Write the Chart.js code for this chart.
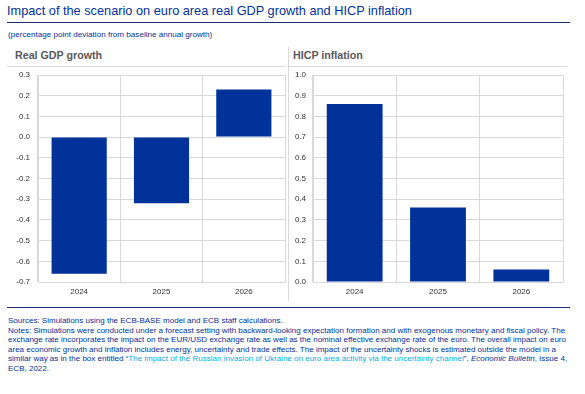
<!DOCTYPE html>
<html><head><meta charset="utf-8">
<script src="https://cdn.jsdelivr.net/npm/chart.js@4.4.1/dist/chart.umd.min.js"></script>
<style>
html,body{margin:0;padding:0;background:#fff;width:585px;height:394px;overflow:hidden;font-family:"Liberation Sans",Arial,sans-serif;}
.abs{position:absolute;}
#title{left:7px;top:3px;font-size:12.75px;color:#003299;white-space:nowrap;}
#trule{left:7px;top:22px;width:563px;height:0;border-top:1.5px solid #1b2f6b;}
#sub{left:8px;top:30px;font-size:8.1px;color:#003299;white-space:nowrap;}
.head{font-size:10.7px;font-weight:bold;color:#595959;white-space:nowrap;top:49px;}
.hline{top:66px;height:0;border-top:1px solid #d9d9d9;}
#vsep{left:288px;top:47px;width:0;height:254px;border-left:1px solid #d9d9d9;}
#brule{left:7px;top:307px;width:563px;height:0;border-top:1.5px solid #1b2f6b;}
#notes{left:8px;top:316px;font-size:8.02px;line-height:9.6px;color:#003299;white-space:nowrap;}
#notes .lk{color:#00b1ea;}
</style></head>
<body>
<div id="title" class="abs">Impact of the scenario on euro area real GDP growth and HICP inflation</div>
<div id="trule" class="abs"></div>
<div id="sub" class="abs">(percentage point deviation from baseline annual growth)</div>
<div class="abs head" style="left:15px;">Real GDP growth</div>
<div class="abs head" style="left:293px;">HICP inflation</div>
<div class="abs hline" style="left:7px;width:279px;"></div>
<div class="abs hline" style="left:289px;width:278px;"></div>
<div id="vsep" class="abs"></div>
<canvas id="c1" class="abs" style="left:0px;top:68px;" width="288" height="232"></canvas>
<canvas id="c2" class="abs" style="left:288px;top:68px;" width="297" height="232"></canvas>
<div id="brule" class="abs"></div>
<div id="notes" class="abs">Sources: Simulations using the ECB-BASE model and ECB staff calculations.<br>Notes: Simulations were conducted under a forecast setting with backward-looking expectation formation and with exogenous monetary and fiscal policy. The<br>exchange rate incorporates the impact on the EUR/USD exchange rate as well as the nominal effective exchange rate of the euro. The overall impact on euro<br>area economic growth and inflation includes energy, uncertainty and trade effects. The impact of the uncertainty shocks is estimated outside the model in a<br>similar way as in the box entitled “<span class="lk">The impact of the Russian invasion of Ukraine on euro area activity via the uncertainty channel</span>”, <i>Economic Bulletin</i>, Issue 4,<br>ECB, 2022.</div>
<script>
const years = ["2024", "2025", "2026"];
const gdpValues = [-0.66, -0.32, 0.23];
const hicpValues = [0.86, 0.36, 0.06];
const gdpTicks = {min: -0.7, max: 0.3, step: 0.1};
const hicpTicks = {min: 0.0, max: 1.0, step: 0.1};

const BAR = "#003299";
const GRID = "#d9d9d9";
const tickFont = {family: "'Liberation Sans', Arial, sans-serif", size: 8};

function makeChart(id, values, t, yWidth, padRight, labelPad) {
  return new Chart(document.getElementById(id), {
    type: "bar",
    data: {labels: years, datasets: [{data: values, backgroundColor: BAR, borderWidth: 0,
      categoryPercentage: 1.0, barPercentage: 0.67}]},
    options: {
      responsive: false, animation: false, devicePixelRatio: 1,
      layout: {autoPadding: false, padding: {top: 7, right: padRight, left: 0, bottom: 0}},
      plugins: {legend: {display: false}, tooltip: {enabled: false}},
      scales: {
        x: {
          grid: {color: GRID, offset: true, drawTicks: false, lineWidth: 1},
          border: {color: GRID},
          ticks: {color: "#333", font: tickFont, padding: 5, maxRotation: 0},
          afterFit: s => { s.height = 18; s.paddingLeft = 0; s.paddingRight = 0; }
        },
        y: {
          min: t.min, max: t.max,
          grid: {color: GRID, drawTicks: false, lineWidth: 1},
          border: {color: GRID},
          ticks: {stepSize: t.step, color: "#333", font: tickFont, padding: labelPad,
            callback: v => Number(v).toFixed(1)},
          afterFit: s => { s.width = yWidth; s.paddingTop = 0; s.paddingBottom = 0; }
        }
      }
    }
  });
}
makeChart("c1", gdpValues, gdpTicks, 38, 3, 8);
makeChart("c2", hicpValues, hicpTicks, 25, 22, 7);
</script>
</body></html>
